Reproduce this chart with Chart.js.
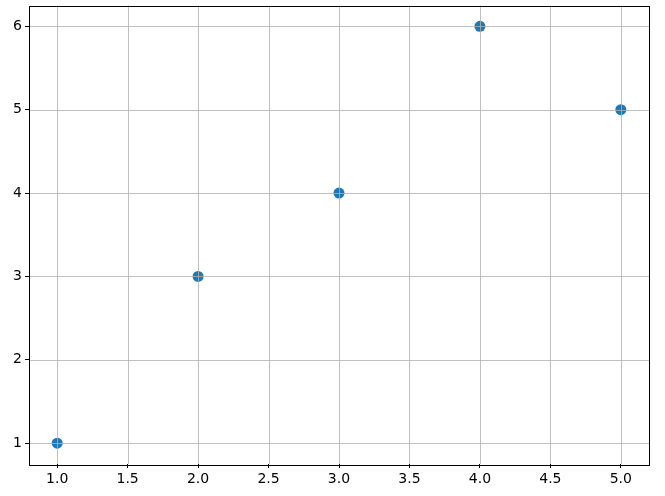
<!DOCTYPE html>
<html>
<head>
<meta charset="utf-8">
<script src="https://cdn.jsdelivr.net/npm/chart.js"></script>
<style>
  html, body { margin: 0; padding: 0; background: #fff; }
  #wrap { width: 665px; height: 496px; }
</style>
</head>
<body>
<div id="wrap"><canvas id="myChart" width="665" height="496"></canvas></div>
<script>
// data
const xValues = [1, 2, 3, 4, 5];
const yValues = [1, 3, 4, 6, 5];
const xTicks = [1.0, 1.5, 2.0, 2.5, 3.0, 3.5, 4.0, 4.5, 5.0];
const yTicks = [1, 2, 3, 4, 5, 6];

const points = xValues.map((x, i) => ({ x: x, y: yValues[i] }));

// matplotlib draws the grid over the markers, and a full frame round the axes
const gridOnTop = {
  id: 'gridOnTop',
  afterDatasetsDraw(chart) {
    const { ctx, chartArea, scales } = chart;
    ctx.save();
    ctx.strokeStyle = '#b0b0b0';
    ctx.lineWidth = 0.8;
    scales.x.ticks.forEach(t => {
      const px = Math.round(scales.x.getPixelForValue(t.value)) + 0.5;
      ctx.beginPath();
      ctx.moveTo(px, chartArea.top);
      ctx.lineTo(px, chartArea.bottom);
      ctx.stroke();
    });
    scales.y.ticks.forEach(t => {
      const py = Math.round(scales.y.getPixelForValue(t.value)) + 0.5;
      ctx.beginPath();
      ctx.moveTo(chartArea.left, py);
      ctx.lineTo(chartArea.right, py);
      ctx.stroke();
    });
    ctx.strokeStyle = '#000';
    ctx.lineWidth = 1;
    ctx.strokeRect(Math.round(chartArea.left) + 0.5, Math.round(chartArea.top) + 0.5,
      Math.round(chartArea.right - chartArea.left), Math.round(chartArea.bottom - chartArea.top));
    ctx.restore();
  }
};

const ctx = document.getElementById('myChart').getContext('2d');
new Chart(ctx, {
  type: 'scatter',
  data: {
    datasets: [{
      data: points,
      backgroundColor: '#1f77b4',
      borderColor: '#1f77b4',
      pointRadius: 5.5,
      pointHoverRadius: 5.5,
      borderWidth: 0
    }]
  },
  options: {
    responsive: false,
    animation: false,
    layout: { padding: { left: 0, right: 16, top: 3, bottom: 0 } },
    plugins: {
      legend: { display: false },
      tooltip: { enabled: false }
    },
    scales: {
      x: {
        type: 'linear',
        min: 0.8,
        max: 5.2,
        afterBuildTicks: axis => { axis.ticks = xTicks.map(v => ({ value: v })); },
        afterFit: axis => { axis.height = 32; },
        border: { display: false },
        grid: { drawOnChartArea: false, tickLength: 4, tickColor: '#000', tickWidth: 1 },
        ticks: {
          color: '#000',
          padding: 3,
          maxRotation: 0,
          autoSkip: false,
          font: { family: 'DejaVu Sans', size: 14 },
          callback: v => Number(v).toFixed(1)
        }
      },
      y: {
        type: 'linear',
        min: 0.75,
        max: 6.25,
        afterBuildTicks: axis => { axis.ticks = yTicks.map(v => ({ value: v })); },
        afterFit: axis => { axis.width = 29; axis.paddingTop = 0; axis.paddingBottom = 0; },
        border: { display: false },
        grid: { drawOnChartArea: false, tickLength: 4, tickColor: '#000', tickWidth: 1 },
        ticks: {
          color: '#000',
          padding: 3,
          autoSkip: false,
          font: { family: 'DejaVu Sans', size: 14 },
          callback: v => String(v)
        }
      }
    }
  },
  plugins: [gridOnTop]
});
</script>
</body>
</html>
